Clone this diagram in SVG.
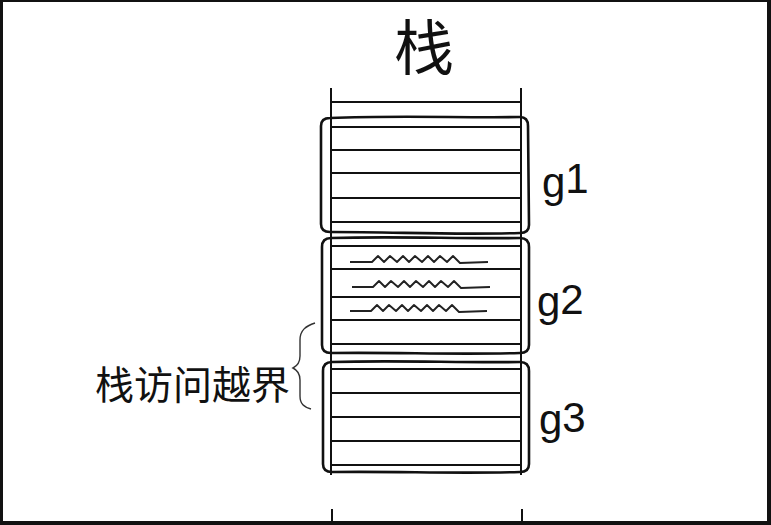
<svg xmlns="http://www.w3.org/2000/svg" width="771" height="525" viewBox="0 0 771 525">
<style>
.frame{fill:#fff;stroke:#111;stroke-width:4}
.v{stroke:#111;stroke-width:2;fill:none}
.row{stroke:#111;stroke-width:2.2;fill:none}
.box{stroke:#111;stroke-width:2.6;fill:none;stroke-linejoin:round}
.zig{stroke:#222;stroke-width:1.9;fill:none;stroke-linejoin:round}
.lbl{font-family:"Liberation Sans","DejaVu Sans",sans-serif;font-size:42px;fill:#111}
.cjk{font-family:"Noto Sans CJK SC",sans-serif;fill:#111}
.brace{stroke:#333;stroke-width:1.4;fill:none}
</style>
<rect class="frame" x="1" y="0" width="768" height="523"/>
<text class="cjk" x="424" y="70" font-size="60" text-anchor="middle">栈</text>
<g id="connectors">
<path class="v" d="M331,88 V475 M521,88 V475 M332,509 V521 M522,509 V521"/>
<path class="row" d="M331,102 H521"/>
</g>
<g id="g1">
<path class="row" d="M331,127 H521 M331,150 H521 M331,173 H521 M331,198 H521 M331,222 H521"/>
<path class="box" d="M330,118 C400,115 460,118 520,117 Q528,117 528,126 L529,225 Q529,233 520,233 C450,235 400,232 330,232 Q321,232 321,224 L321,126 Q321,118 330,118 Z"/>
<text class="lbl" x="542" y="197">g<tspan dy="-4">1</tspan></text>
</g>
<g id="g2">
<path class="row" d="M331,246 H521 M331,269 H521 M331,297 H521 M331,320 H521 M331,344 H521"/>
<path class="box" d="M331,238 C400,236 460,239 520,238 Q529,238 529,247 L529,345 Q529,353 520,353 C450,355 400,352 331,353 Q322,353 322,345 L322,247 Q322,238 331,238 Z"/>
<path class="zig" d="M350,262 H372 L378,256 L384,262 L390,256 L397,262 L403,256 L409,262 L415,256 L422,262 L428,256 L434,262 L440,256 L447,262 L453,256 L460,263 L488,262"/>
<path class="zig" d="M352,287 H373 L379,281 L385,287 L391,281 L398,287 L404,281 L410,287 L416,281 L423,287 L429,281 L435,287 L441,281 L448,287 L454,281 L461,288 L490,287"/>
<path class="zig" d="M350,311 H371 L377,305 L383,311 L389,305 L396,311 L402,305 L408,311 L414,305 L421,311 L427,305 L433,311 L439,305 L446,311 L452,305 L459,312 L487,311"/>
<text class="lbl" x="537" y="316">g<tspan dy="-2">2</tspan></text>
</g>
<g id="g3">
<path class="row" d="M331,369 H521 M331,393 H521 M331,417 H521 M331,441 H521 M331,465 H521"/>
<path class="box" d="M332,362 C400,360 460,363 520,362 Q529,362 529,371 L529,464 Q529,472 520,472 C450,474 400,471 332,472 Q323,472 323,464 L323,371 Q323,362 332,362 Z"/>
<text class="lbl" x="539" y="434">g<tspan dy="-2">3</tspan></text>
</g>
<g id="overflow">
<path class="brace" d="M315,323 C306,326 300,330 300,340 L300,356 C300,363 297,366 293,368 C297,370 300,373 300,380 L300,396 C300,404 304,407 311,409"/>
<text class="cjk" x="95" y="399" font-size="39">栈访问越界</text>
</g>
</svg>
